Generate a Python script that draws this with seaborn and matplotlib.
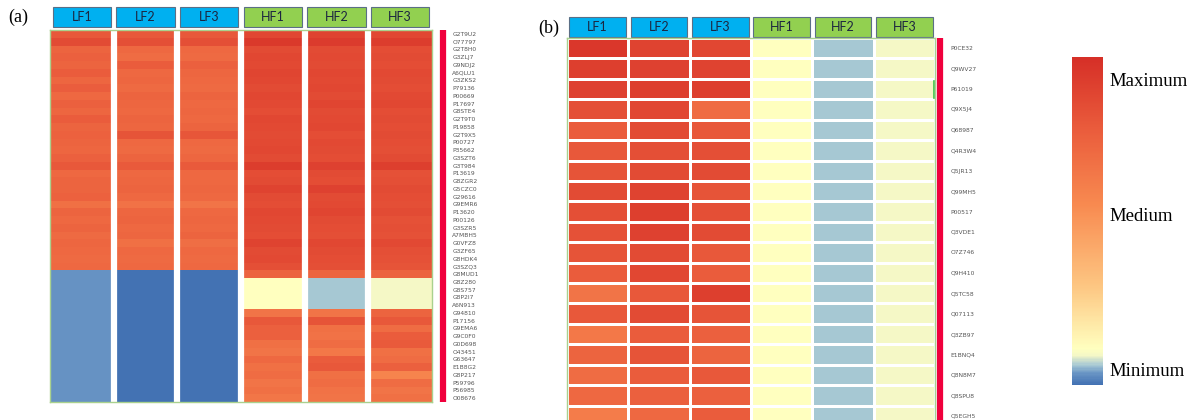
import numpy as np
import pandas as pd
import matplotlib
matplotlib.use('Agg')
import matplotlib.pyplot as plt
import seaborn as sns
from matplotlib.colors import LinearSegmentedColormap
from matplotlib.patches import Rectangle
from matplotlib.transforms import blended_transform_factory

# samples
groups = ['LF1', 'LF2', 'LF3', 'HF1', 'HF2', 'HF3']
group_colors = ['#00b0f0', '#00b0f0', '#00b0f0', '#92d050', '#92d050', '#92d050']

# panel (a) proteins
prot_a = ['G2T9U2', 'O77797', 'G2T8H0', 'G3ZLJ7', 'G9NDJ2', 'A6QLU1', 'G3ZKS2', 'P79136',
          'P00669', 'P17697', 'G8STE4', 'G2T9T0', 'P19858', 'G2T9X5', 'P00727', 'P35662',
          'G3SZT6', 'G3T984', 'P13619', 'G8ZGR2', 'G5CZC0', 'G29616', 'G9EMR6', 'P13620',
          'P00126', 'G3SZR5', 'A7MBH5', 'G0VFZ8', 'G3ZF65', 'G8HDK4', 'G3SZQ3', 'G8MUD1',
          'G8Z280', 'G8S757', 'G8P2I7', 'A6N913', 'G94810', 'P17156', 'G9EMA6', 'G9C0F0',
          'G0D698', 'O43451', 'G63647', 'E1B8G2', 'G8P217', 'P59796', 'P56985', 'O08676']

lf1_a = [0.80, 0.86, 0.74, 0.76, 0.74, 0.78, 0.73, 0.77, 0.72, 0.76, 0.73, 0.78, 0.74, 0.75, 0.74, 0.73,
         0.76, 0.80, 0.72, 0.74, 0.74, 0.75, 0.68, 0.74, 0.72, 0.74, 0.71, 0.73, 0.72, 0.71, 0.72,
         0.035, 0.035, 0.035, 0.035, 0.035, 0.035, 0.035, 0.035, 0.035, 0.035, 0.035, 0.035, 0.035,
         0.035, 0.035, 0.035, 0.035]
lf2_a = [0.80, 0.84, 0.72, 0.70, 0.78, 0.72, 0.73, 0.71, 0.74, 0.73, 0.72, 0.74, 0.73, 0.82, 0.72, 0.71,
         0.74, 0.79, 0.72, 0.73, 0.74, 0.72, 0.67, 0.73, 0.74, 0.72, 0.73, 0.68, 0.72, 0.71, 0.72,
         0.0, 0.0, 0.0, 0.0, 0.0, 0.0, 0.0, 0.0, 0.0, 0.0, 0.0, 0.0, 0.0, 0.0, 0.0, 0.0, 0.0]
lf3_a = [0.80, 0.84, 0.72, 0.71, 0.76, 0.73, 0.72, 0.71, 0.74, 0.72, 0.73, 0.72, 0.74, 0.81, 0.72, 0.71,
         0.73, 0.79, 0.72, 0.72, 0.73, 0.72, 0.66, 0.72, 0.73, 0.72, 0.74, 0.69, 0.72, 0.71, 0.72,
         0.0, 0.0, 0.0, 0.0, 0.0, 0.0, 0.0, 0.0, 0.0, 0.0, 0.0, 0.0, 0.0, 0.0, 0.0, 0.0, 0.0]
hf1_a = [0.88, 0.95, 0.86, 0.88, 0.87, 0.89, 0.88, 0.86, 0.88, 0.87, 0.85, 0.88, 0.87, 0.86, 0.87, 0.88,
         0.86, 0.93, 0.85, 0.86, 0.90, 0.86, 0.85, 0.88, 0.87, 0.86, 0.85, 0.90, 0.86, 0.87, 0.84, 0.74,
         0.11, 0.11, 0.11, 0.11,
         0.66, 0.80, 0.76, 0.76, 0.68, 0.66, 0.72, 0.68, 0.70, 0.66, 0.68, 0.65]
hf2_a = [0.90, 0.94, 0.86, 0.87, 0.86, 0.88, 0.87, 0.88, 0.86, 0.89, 0.86, 0.87, 0.88, 0.85, 0.87, 0.86,
         0.85, 0.91, 0.86, 0.85, 0.91, 0.86, 0.87, 0.89, 0.86, 0.85, 0.84, 0.88, 0.86, 0.85, 0.84, 0.74,
         0.06, 0.06, 0.06, 0.06,
         0.66, 0.82, 0.68, 0.67, 0.70, 0.64, 0.78, 0.80, 0.68, 0.70, 0.67, 0.66]
hf3_a = [0.88, 0.93, 0.85, 0.86, 0.85, 0.87, 0.86, 0.85, 0.87, 0.88, 0.85, 0.86, 0.85, 0.86, 0.85, 0.84,
         0.86, 0.92, 0.83, 0.84, 0.86, 0.85, 0.84, 0.86, 0.83, 0.84, 0.83, 0.87, 0.84, 0.83, 0.82, 0.74,
         0.09, 0.09, 0.09, 0.09,
         0.74, 0.80, 0.70, 0.78, 0.79, 0.68, 0.70, 0.76, 0.58, 0.70, 0.66, 0.68]

# panel (b) proteins
prot_b = ['P0CE32', 'Q9WV27', 'P61019', 'Q9X5J4', 'Q68987', 'Q4R3W4', 'Q5JR13', 'Q99MH5',
          'P00517', 'Q3VDE1', 'O7Z746', 'Q9H410', 'Q5TC58', 'Q07113', 'Q3ZB97', 'E1BNQ4',
          'Q8N8M7', 'Q8SPU8', 'Q5EGH5']
lf1_b = [0.96, 0.92, 0.91, 0.84, 0.78, 0.80, 0.82, 0.86, 0.84, 0.83, 0.82, 0.78, 0.66, 0.80,
         0.64, 0.74, 0.70, 0.72, 0.62]
lf2_b = [0.90, 0.91, 0.92, 0.88, 0.86, 0.84, 0.86, 0.90, 0.92, 0.91, 0.86, 0.88, 0.80, 0.86,
         0.78, 0.82, 0.78, 0.76, 0.72]
lf3_b = [0.88, 0.90, 0.92, 0.70, 0.80, 0.84, 0.86, 0.82, 0.84, 0.86, 0.80, 0.78, 0.92, 0.82,
         0.76, 0.74, 0.80, 0.76, 0.78]
hf1_b = [0.11] * 19
hf2_b = [0.06] * 19
hf3_b = [0.09] * 19

df_a = pd.DataFrame({'LF1': lf1_a, 'LF2': lf2_a, 'LF3': lf3_a,
                     'HF1': hf1_a, 'HF2': hf2_a, 'HF3': hf3_a}, index=prot_a)
df_b = pd.DataFrame({'LF1': lf1_b, 'LF2': lf2_b, 'LF3': lf3_b,
                     'HF1': hf1_b, 'HF2': hf2_b, 'HF3': hf3_b}, index=prot_b)

cmap = LinearSegmentedColormap.from_list('heat', [
    (0.00, '#4372b3'), (0.035, '#6a96c5'), (0.06, '#a9cad4'), (0.09, '#f5f8c6'),
    (0.11, '#ffffbf'), (0.30, '#fdc682'), (0.55, '#f88a50'), (0.78, '#ea5c3c'),
    (1.00, '#d62f27')])

W, H = 1194, 420
fig = plt.figure(figsize=(W / 100, H / 100), dpi=100)

def frac(x0, y0, x1, y1):
    return [x0 / W, 1 - y1 / H, (x1 - x0) / W, (y1 - y0) / H]

ax_a = fig.add_axes(frac(50, 30, 432, 402))
ax_b = fig.add_axes(frac(567, 38, 935, 426))
cax = fig.add_axes(frac(1072, 57, 1103, 385))

sns.heatmap(df_a, ax=ax_a, cmap=cmap, vmin=0, vmax=1, cbar=True, cbar_ax=cax,
            xticklabels=False, yticklabels=prot_a)
sns.heatmap(df_b, ax=ax_b, cmap=cmap, vmin=0, vmax=1, cbar=False,
            linewidths=2, linecolor='white', xticklabels=False, yticklabels=prot_b)

for i in range(1, 6):
    ax_a.axvline(i, color='white', lw=4.5)

def decorate(ax, head_bottom, head_h, bar_x, pad, hx0=0.04, hx1=0.96):
    ax.yaxis.tick_right()
    ax.tick_params(axis='y', length=0, pad=pad, labelsize=4.3, labelcolor='#555555',
                   labelrotation=0)
    for s in ax.spines.values():
        s.set_visible(True)
        s.set_color('#a9d18e')
        s.set_linewidth(1)
    tr = blended_transform_factory(ax.transData, ax.transAxes)
    for i, (g, c) in enumerate(zip(groups, group_colors)):
        ax.add_patch(Rectangle((i + hx0, head_bottom), hx1 - hx0, head_h, transform=tr,
                               facecolor=c, edgecolor='#5b6f86', lw=0.8, clip_on=False))
        ax.text(i + 0.5, head_bottom + head_h / 2, g, transform=tr, ha='center', va='center',
                fontsize=9, family='Lato', color='#1c2540')
    ax.plot([bar_x, bar_x], [0, 1], transform=ax.transAxes, color='#f0003c', lw=4.5,
            clip_on=False, solid_capstyle='butt')

decorate(ax_a, 1.008, 0.054, 1.029, 14.5)
decorate(ax_b, 1.003, 0.0515, 1.0136, 11)
ax_b.plot([0.996, 0.996], [0.845, 0.89], transform=ax_b.transAxes, color='#3cc24a', lw=1.2,
          clip_on=False)

cb = ax_a.collections[0].colorbar
cb.set_ticks([0.046, 0.52, 0.93])
cb.set_ticklabels(['Minimum', 'Medium', 'Maximum'])
cb.ax.tick_params(length=0, labelsize=13.5, pad=5)
for t in cb.ax.get_yticklabels():
    t.set_fontfamily('Liberation Serif')
cb.outline.set_visible(False)

fig.text(8 / W, 1 - 17 / H, '(a)', fontsize=13, family='Liberation Serif', va='center')
fig.text(538 / W, 1 - 28 / H, '(b)', fontsize=13, family='Liberation Serif', va='center')

fig.savefig('out.png', dpi=100)
